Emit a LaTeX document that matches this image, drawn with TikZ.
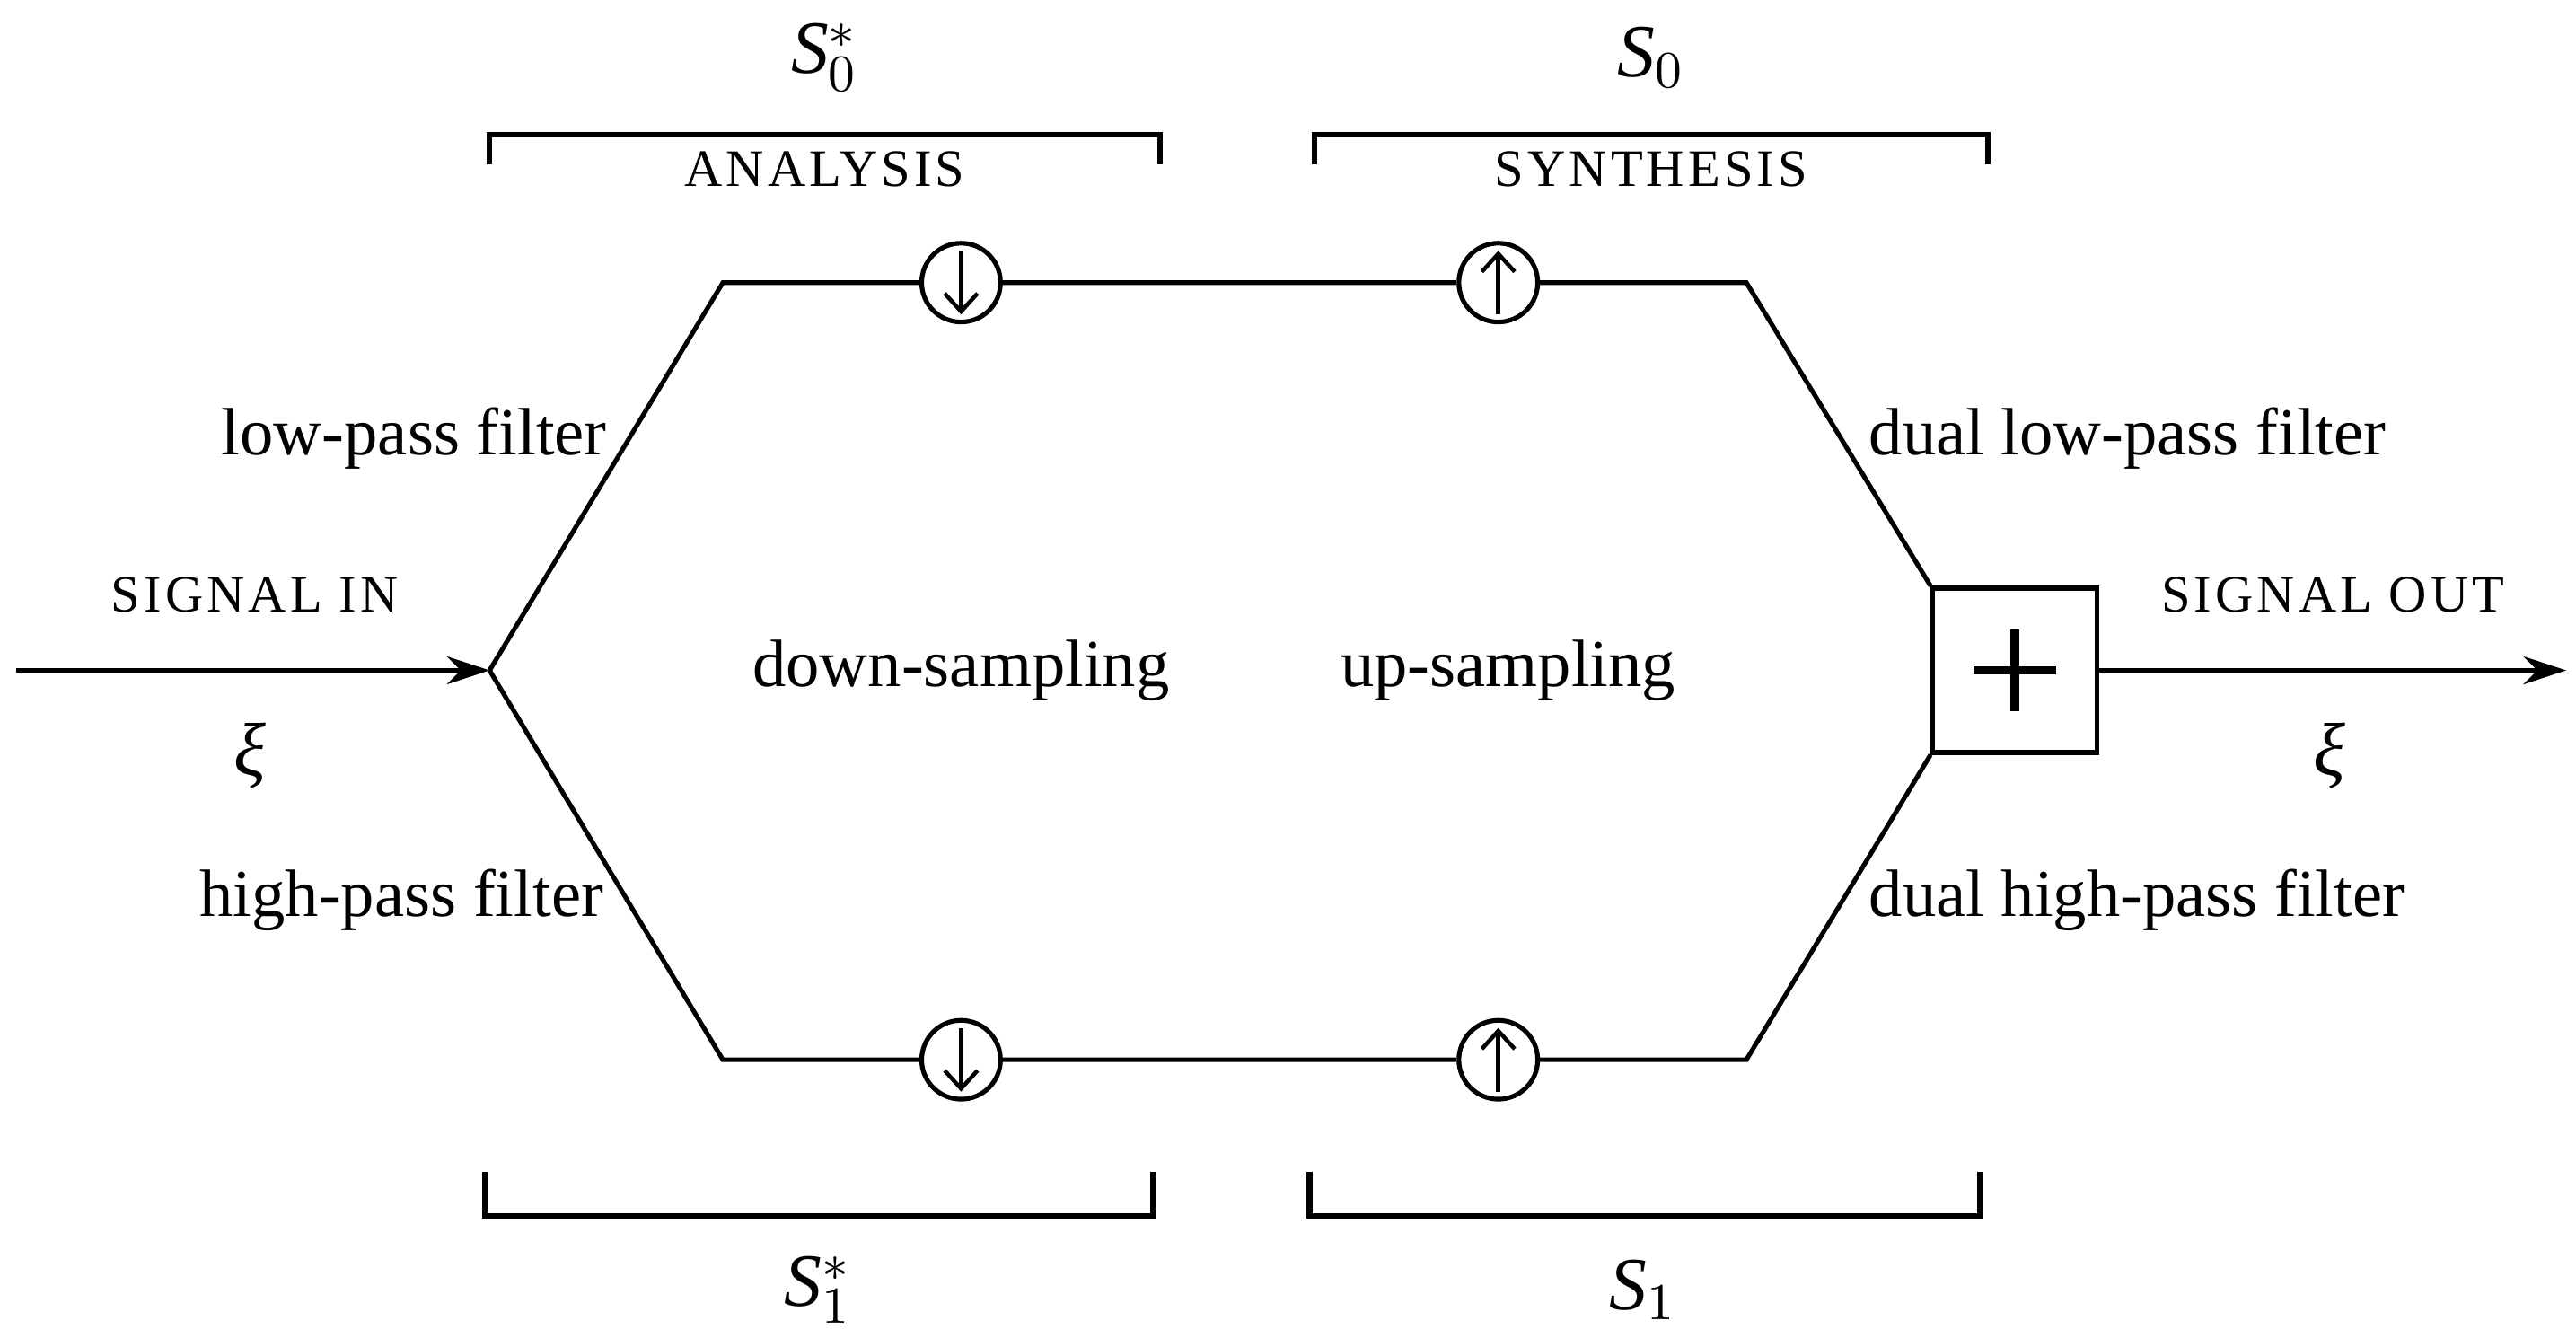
\documentclass[tikz,border=0pt]{standalone}
\usepackage{fontspec}
\setmainfont{Liberation Serif}
\usetikzlibrary{arrows.meta}

\tikzset{
    sig/.style={line width=0.8pt},
    sigarrow/.style={line width=0.8pt, -{Stealth[length=2.6mm,width=1.7mm]}},
    sampler/.style={draw, circle, line width=0.8pt, fill=white, inner sep=0pt,
        minimum size=0.48cm},
    samplearrow/.style={line width=0.7pt, -{Straight Barb[length=1.1mm,width=2mm]}},
    sumbox/.style={draw, line width=0.8pt, minimum size=1cm, inner sep=0pt},
    bracket/.style={line width=1pt},
    smallcaps/.style={font=\fontsize{9.1}{11}\selectfont\addfontfeatures{LetterSpace=7}},
    filterlabel/.style={font=\fontsize{11.6}{13}\selectfont, inner sep=0pt},
    greeklabel/.style={font=\fontsize{13}{15}\selectfont},
    oplabel/.style={font=\fontsize{13}{15}\selectfont}
}

\begin{document}
\begin{tikzpicture}
    \useasboundingbox (0,0) rectangle (15.68,8.14);

    % Branch points and corners
    \coordinate (in) at (0.10,4.06);
    \coordinate (split) at (2.98,4.06);
    \coordinate (ul) at (4.40,6.42);
    \coordinate (ll) at (4.40,1.69);
    \coordinate (ur) at (10.63,6.42);
    \coordinate (lr) at (10.63,1.69);
    \coordinate (out) at (15.62,4.06);

    % Samplers and adder
    \node[sampler] (down0) at (5.85,6.42) {};
    \node[sampler] (up0) at (9.12,6.42) {};
    \node[sampler] (down1) at (5.85,1.69) {};
    \node[sampler] (up1) at (9.12,1.69) {};
    \foreach \s in {down0,down1}
        \draw[samplearrow] ([yshift=-0.06cm]\s.north) -- ([yshift=0.06cm]\s.south);
    \foreach \s in {up0,up1}
        \draw[samplearrow] ([yshift=0.06cm]\s.south) -- ([yshift=-0.06cm]\s.north);
    \node[sumbox] (sum) at (12.265,4.06) {};
    \draw[line width=1.5pt] (sum.center) ++(-0.25,0) -- ++(0.50,0);
    \draw[line width=1.5pt] (sum.center) ++(0,-0.25) -- ++(0,0.50);

    % Signal paths
    \draw[sigarrow] (in) -- (split);
    \draw[sig] (split) -- (ul) -- (down0) -- (up0) -- (ur) -- (sum.north west);
    \draw[sig] (split) -- (ll) -- (down1) -- (up1) -- (lr) -- (sum.south west);
    \draw[sigarrow] (sum) -- (out);

    % Brackets
    \draw[bracket] (2.98,7.14) -- (2.98,7.32) -- (7.06,7.32) -- (7.06,7.14);
    \draw[bracket] (8.00,7.14) -- (8.00,7.32) -- (12.10,7.32) -- (12.10,7.14);
    \draw[bracket] (2.95,1.01) -- (2.95,0.74) -- (7.02,0.74) -- (7.02,1.01);
    \draw[bracket] (7.97,1.01) -- (7.97,0.74) -- (12.05,0.74) -- (12.05,1.01);

    % Labels
    \node[oplabel] (s0star) at (5.02,7.79) {$\mathit{S}_{0}^{*}$};
    \node[oplabel] (s0) at (10.05,7.79) {$\mathit{S}_{0}$};
    \node[oplabel] (s1star) at (4.98,0.29) {$\mathit{S}_{1}^{*}$};
    \node[oplabel] (s1) at (10.00,0.29) {$\mathit{S}_{1}$};
    \node[smallcaps] (analysis) at (5.02,7.11) {ANALYSIS};
    \node[smallcaps] (synthesis) at (10.05,7.11) {SYNTHESIS};
    \node[smallcaps] (sigin) at (1.55,4.52) {SIGNAL IN};
    \node[smallcaps] (sigout) at (14.20,4.52) {SIGNAL OUT};
    \node[greeklabel] (xiin) at (1.52,3.54) {\textit{ξ}};
    \node[greeklabel] (xiout) at (14.18,3.54) {\textit{ξ}};

    \node[filterlabel, anchor=east] (lowpass) at (3.70,5.47) {low-pass filter};
    \node[filterlabel, anchor=east] (highpass) at (3.68,2.66) {high-pass filter};
    \node[filterlabel, anchor=west] (duallow) at (11.37,5.47) {dual low-pass filter};
    \node[filterlabel, anchor=west] (dualhigh) at (11.37,2.66) {dual high-pass filter};
    \node[filterlabel] (downs) at (5.85,4.06) {down-sampling};
    \node[filterlabel] (ups) at (9.18,4.06) {up-sampling};
\end{tikzpicture}
\end{document}
